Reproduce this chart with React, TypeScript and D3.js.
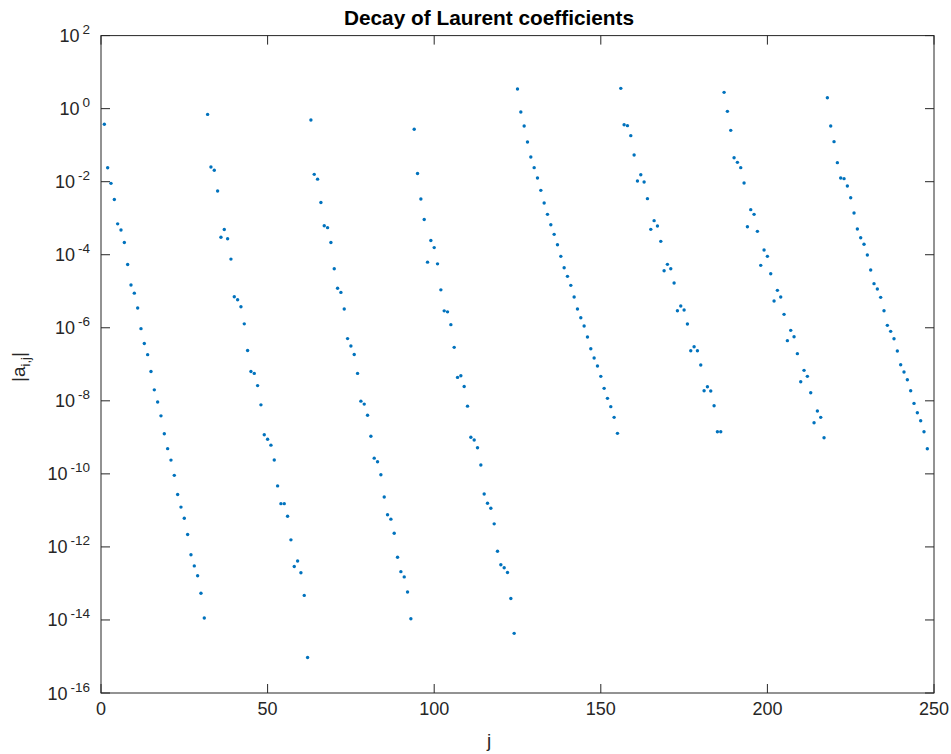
import React from "react";
import * as d3 from "d3";

// log10 |a_ij|, one array per block of 31 coefficients
const block1 = [-0.426, -1.619, -2.045, -2.489, -3.155, -3.322, -3.664, -4.266, -4.83, -5.052, -5.459, -6.024, -6.431, -6.736, -7.199, -7.699, -8.032, -8.411, -8.902, -9.309, -9.623, -10.04, -10.567, -10.91, -11.215, -11.659, -12.214, -12.52, -12.788, -13.27, -13.945];
const block2 = [-0.158, -1.597, -1.688, -2.255, -3.521, -3.309, -3.562, -4.119, -5.152, -5.233, -5.426, -5.892, -6.621, -7.198, -7.249, -7.583, -8.11, -8.93, -9.052, -9.214, -9.619, -10.329, -10.815, -10.815, -11.159, -11.807, -12.537, -12.385, -12.709, -13.327, -15.03];
const block3 = [-0.31, -1.799, -1.931, -2.569, -3.207, -3.258, -3.663, -4.382, -4.919, -5.031, -5.487, -6.297, -6.499, -6.732, -7.249, -8.009, -8.09, -8.394, -8.971, -9.569, -9.67, -10.025, -10.632, -11.119, -11.24, -11.625, -12.283, -12.678, -12.821, -13.236, -13.965];
const block4 = [-0.565, -1.777, -2.472, -3.036, -4.203, -3.61, -3.805, -4.249, -4.962, -5.536, -5.564, -5.915, -6.536, -7.359, -7.313, -7.609, -8.146, -8.998, -9.072, -9.285, -9.757, -10.553, -10.803, -10.942, -11.368, -12.117, -12.488, -12.571, -12.7, -13.413, -14.367];
const block5 = [0.538, -0.092, -0.476, -0.913, -1.324, -1.616, -1.899, -2.237, -2.584, -2.894, -3.177, -3.442, -3.725, -4.044, -4.355, -4.592, -4.838, -5.158, -5.486, -5.724, -5.952, -6.253, -6.573, -6.828, -7.047, -7.33, -7.659, -7.932, -8.16, -8.453, -8.891];
const block6 = [0.556, -0.439, -0.466, -0.74, -1.27, -1.981, -1.808, -2.009, -2.465, -3.305, -3.067, -3.214, -3.634, -4.437, -4.263, -4.382, -4.774, -5.532, -5.404, -5.514, -5.897, -6.627, -6.518, -6.627, -7.02, -7.723, -7.613, -7.732, -8.133, -8.845, -8.845];
const block7 = [0.446, -0.074, -0.594, -1.343, -1.47, -1.616, -2.036, -3.232, -2.766, -2.894, -3.36, -4.291, -3.871, -4.044, -4.519, -5.267, -4.975, -5.158, -5.632, -6.353, -6.071, -6.244, -6.709, -7.476, -7.166, -7.33, -7.777, -8.599, -8.279, -8.453, -9.01];
const block8 = [0.3, -0.475, -0.904, -1.479, -1.899, -1.917, -2.118, -2.438, -2.858, -3.296, -3.533, -3.715, -4.008, -4.418, -4.792, -4.939, -5.167, -5.532, -5.933, -6.098, -6.299, -6.636, -7.011, -7.211, -7.421, -7.723, -8.07, -8.325, -8.544, -8.845, -9.311];

const blocks = [block1, block2, block3, block4, block5, block6, block7, block8];
const xTicks = [0, 50, 100, 150, 200, 250];
const yTickExps = [2, 0, -2, -4, -6, -8, -10, -12, -14, -16];

const W = 951;
const H = 754;
const left = 101;
const right = 934;
const top = 35.6;
const bottom = 693;
const tick = 9;
const axisColor = "#262626";
const font = "'Liberation Sans', Arial, Helvetica, sans-serif";

const points = blocks.flat().map((e, i) => ({ j: i + 1, v: Math.pow(10, e) }));

export default function App() {
  const x = d3.scaleLinear().domain([0, 250]).range([left, right]);
  const y = d3.scaleLog().domain([1e-16, 1e2]).range([bottom, top]);

  return (
    <svg
      width={W}
      height={H}
      style={{ position: "absolute", left: 0, top: 0, background: "#fff" }}
      fontFamily={font}
    >
      <rect x={0} y={0} width={W} height={H} fill="#fff" />

      {/* markers */}
      {points.map((d) => (
        <circle key={d.j} cx={x(d.j)} cy={y(d.v)} r={1.7} fill="#0072BD" />
      ))}

      {/* box */}
      <rect
        x={left}
        y={top}
        width={right - left}
        height={bottom - top}
        fill="none"
        stroke={axisColor}
        strokeWidth={1}
      />

      {/* x ticks */}
      {xTicks.map((t) => (
        <g key={"x" + t}>
          <line x1={x(t)} x2={x(t)} y1={bottom} y2={bottom - tick} stroke={axisColor} />
          <line x1={x(t)} x2={x(t)} y1={top} y2={top + tick} stroke={axisColor} />
          <text x={x(t)} y={bottom + 22} textAnchor="middle" fontSize={18} fill={axisColor}>
            {t}
          </text>
        </g>
      ))}

      {/* y ticks */}
      {yTickExps.map((e) => {
        const yy = y(Math.pow(10, e));
        return (
          <g key={"y" + e}>
            <line x1={left} x2={left + tick} y1={yy} y2={yy} stroke={axisColor} />
            <line x1={right} x2={right - tick} y1={yy} y2={yy} stroke={axisColor} />
            <text x={left - 11} y={yy + 6.5} textAnchor="end" fontSize={18} fill={axisColor}>
              10
              <tspan dx={3} dy={-8} fontSize={13.5}>
                {e}
              </tspan>
            </text>
          </g>
        );
      })}

      {/* title */}
      <text x={489} y={25} textAnchor="middle" fontSize={20.8} fontWeight="bold" fill="#000">
        Decay of Laurent coefficients
      </text>

      {/* x label */}
      <text x={489} y={747} textAnchor="middle" fontSize={19} fill={axisColor}>
        j
      </text>

      {/* y label */}
      <text transform="translate(25,367) rotate(-90)" textAnchor="middle" fontSize={19} fill={axisColor}>
        |a
        <tspan dy={5} fontSize={13}>
          i,j
        </tspan>
        <tspan dy={-5}>|</tspan>
      </text>
    </svg>
  );
}
